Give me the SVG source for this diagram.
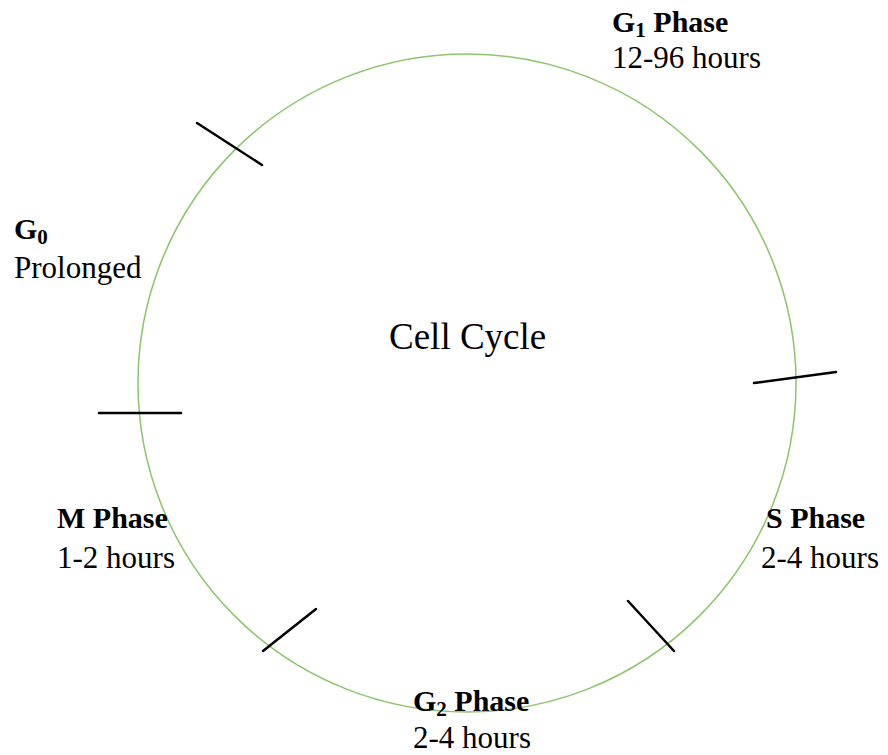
<svg xmlns="http://www.w3.org/2000/svg" width="888" height="755" viewBox="0 0 888 755">
<style>
.lbl{font-family:"Liberation Serif","Times New Roman",serif;font-size:31px;fill:#000}
.b{font-weight:bold;font-size:30px}
.tick{stroke:#000;stroke-width:2.5;stroke-linecap:round}
</style>
<rect width="888" height="755" fill="#fff"/>
<g id="cycle">
<circle cx="467" cy="383" r="329" fill="none" stroke="#8CC56B" stroke-width="1.5"/>
<text class="lbl" x="389" y="349" style="font-size:37px">Cell Cycle</text>
</g>
<g id="connectors">
<line class="tick" x1="197" y1="123" x2="262" y2="165"/>
<line class="tick" x1="99" y1="413" x2="181" y2="413"/>
<line class="tick" x1="754" y1="383" x2="836" y2="372"/>
<line class="tick" x1="263" y1="651" x2="316" y2="609"/>
<line class="tick" x1="628" y1="601" x2="674" y2="651"/>
</g>
<g id="g1">
<text class="lbl b" x="612" y="32">G<tspan font-size="21" dy="5">1</tspan><tspan dy="-5"> Phase</tspan></text>
<text class="lbl" x="612" y="68">12-96 hours</text>
</g>
<g id="g0">
<text class="lbl b" x="14" y="239">G<tspan font-size="21" dy="5">0</tspan></text>
<text class="lbl" x="14" y="278">Prolonged</text>
</g>
<g id="m">
<text class="lbl b" x="57" y="528">M Phase</text>
<text class="lbl" x="57" y="568">1-2 hours</text>
</g>
<g id="s">
<text class="lbl b" x="766" y="528">S Phase</text>
<text class="lbl" x="761" y="568">2-4 hours</text>
</g>
<g id="g2">
<text class="lbl b" x="413" y="711">G<tspan font-size="21" dy="5">2</tspan><tspan dy="-5"> Phase</tspan></text>
<text class="lbl" x="413" y="748">2-4 hours</text>
</g>
</svg>
